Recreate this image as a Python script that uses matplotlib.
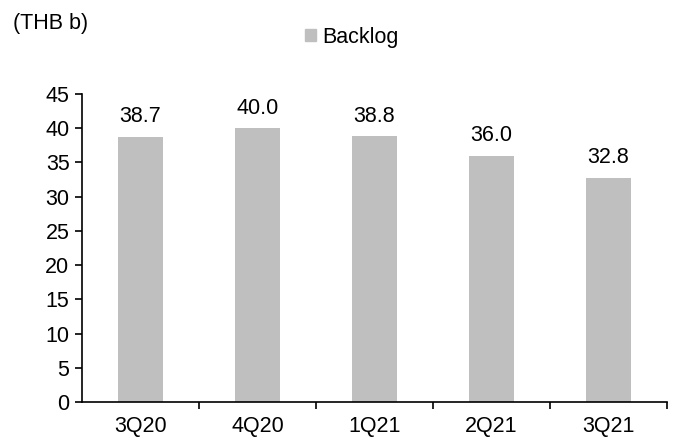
import numpy as np
import matplotlib.pyplot as plt
from matplotlib.patches import Patch

plt.rcParams["font.family"] = ["Liberation Sans", "DejaVu Sans"]

quarters = ["3Q20", "4Q20", "1Q21", "2Q21", "3Q21"]
backlog = [38.7, 40.0, 38.8, 36.0, 32.8]

FS = 15.5

fig = plt.figure(figsize=(6.78, 4.44), dpi=100)
ax = fig.add_axes([82 / 678, 42 / 444, 585 / 678, 308 / 444])

x = np.arange(len(quarters))
bars = ax.bar(x, backlog, width=0.39, color="#bfbfbf")
ax.bar_label(bars, labels=[f"{v:.1f}" for v in backlog], padding=7, fontsize=FS)

ax.set_xlim(-0.5, len(quarters) - 0.5)
ax.set_ylim(0, 45)
ax.set_yticks(np.arange(0, 46, 5))
ax.tick_params(axis="y", direction="out", length=5, width=1.2, labelsize=FS, pad=4)

# category labels centred, tick marks on the boundaries
ax.set_xticks(x, quarters)
ax.tick_params(axis="x", which="major", length=0, labelsize=FS, pad=10)
ax.set_xticks(np.arange(0.5, len(quarters) - 0.5 + 0.01, 1.0), minor=True)
ax.tick_params(axis="x", which="minor", direction="out", length=5, width=1.2)

for side in ["top", "right"]:
    ax.spines[side].set_visible(False)
ax.spines["left"].set_linewidth(1.2)
ax.spines["bottom"].set_linewidth(1.2)

fig.text(13 / 678, 1 - 23 / 444, "(THB b)", fontsize=FS, va="center", ha="left")
fig.legend(handles=[Patch(color="#bfbfbf", label="Backlog")], loc="center",
           bbox_to_anchor=(352 / 678, 1 - 37 / 444), frameon=False, fontsize=FS,
           handlelength=0.5, handleheight=0.5, handletextpad=0.3)

fig.savefig("out.png", dpi=100)
